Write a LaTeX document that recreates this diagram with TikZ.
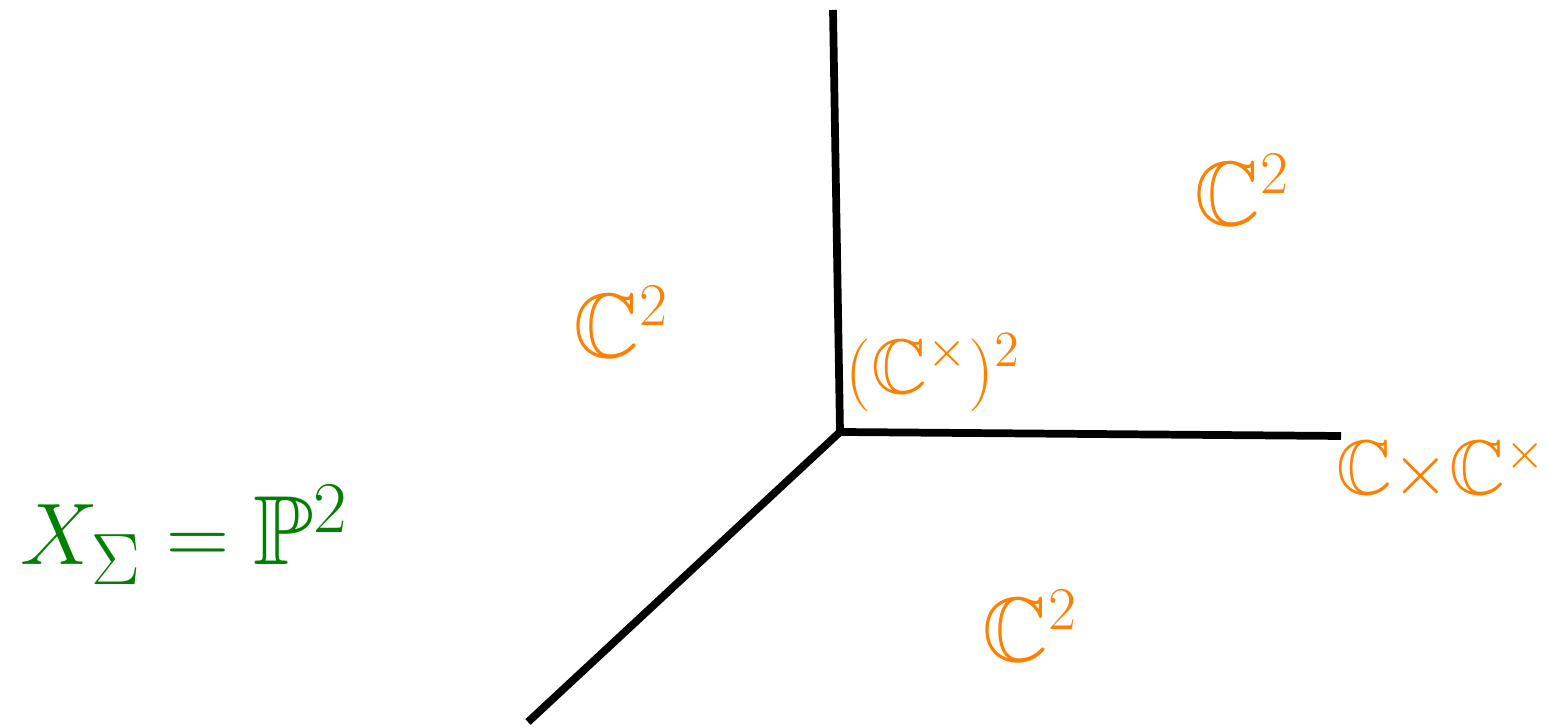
\documentclass[tikz,border=0pt]{standalone}
\usepackage{amsmath,amssymb}
\usepackage{tikz}
\usetikzlibrary{positioning}
\definecolor{coneorange}{RGB}{255,128,0}
\definecolor{fangreen}{RGB}{0,128,0}
\begin{document}
\begin{tikzpicture}[
    ray/.style={-,line width=2.2pt,black},
    conelabel/.style={text=coneorange,font=\fontsize{26}{30}\selectfont},
    smalllabel/.style={text=coneorange,font=\fontsize{22}{26}\selectfont,inner sep=0pt},
    fanlabel/.style={text=fangreen,font=\fontsize{28}{32}\selectfont},
]
                        \useasboundingbox (0,0) rectangle (15.5,7.28);
                        %
                            % Origine e raggi
                        \coordinate (O) at (8.40,2.96);
                        \coordinate (rayUp) at (8.33,7.18);
                        \coordinate (rayRight) at (13.41,2.92);
                        \coordinate (rayDown) at (5.28,0.06);
                        %
                        \draw[ray] (O) -- (rayUp);
                        \draw[ray] (O) -- (rayRight);
                        \draw[ray] (O) -- (rayDown);
                        %
                            % Coni
                        \node[conelabel] (coneLeft) at (6.21,4.06) {$\mathbb{C}^2$};
                        \node[conelabel] (coneTop) at (12.42,5.38) {$\mathbb{C}^2$};
                        \node[conelabel] (coneBottom) at (10.30,1.02) {$\mathbb{C}^2$};
                        \node[smalllabel] (torus) at (9.33,3.55) {$(\mathbb{C}^\times)^2$};
                        \node[smalllabel,anchor=west] (rayLabel) at (13.36,2.58) {$\mathbb{C}{\times}\mathbb{C}^\times$};
                        %
                            % Varieta torica
                        \node[fanlabel] (variety) at (1.85,1.93) {$X_\Sigma=\mathbb{P}^2$};
                    \end{tikzpicture}
\end{document}
